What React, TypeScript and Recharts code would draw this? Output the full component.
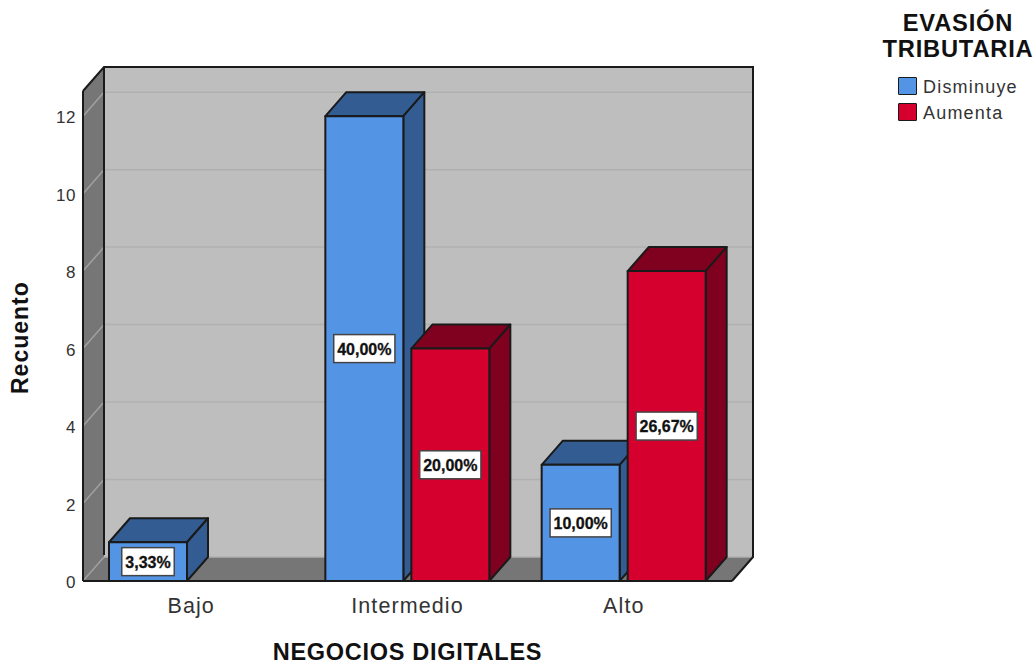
import { Bar, BarChart, CartesianGrid, LabelList, XAxis, YAxis, usePlotArea } from "recharts";

const categories = ["Bajo", "Intermedio", "Alto"];
const disminuye = [1, 12, 3];
const aumenta = [null, 6, 8];
const yTicks = [0, 2, 4, 6, 8, 10, 12];
const totalCasos = 30;
const seriesNames = ["Disminuye", "Aumenta"];
const seriesColors = ["#5394e4", "#d6002f"];
const sideColors = ["#335d92", "#80001f"];

const data = categories.map((name, i) => ({
  name,
  [seriesNames[0]]: disminuye[i],
  [seriesNames[1]]: aumenta[i],
}));

// oblique offset of the 3D box
const DX = 21;
const DY = 24;
const EDGE = "#1a1a1a";
const FONT = "'Liberation Sans', Arial, sans-serif";

// side wall, floor and back wall behind the bars
const Walls = () => {
  const plot = usePlotArea();
  if (!plot) return null;
  const { x, y, width, height } = plot;
  const right = x + width;
  const bottom = y + height;
  return (
    <g>
      <rect x={x + DX} y={y - DY} width={width} height={height} fill="#bebebe" />
      <polygon
        points={`${x},${y} ${x + DX},${y - DY} ${x + DX},${bottom - DY} ${x},${bottom}`}
        fill="#767676"
      />
      <polygon
        points={`${x},${bottom} ${x + DX},${bottom - DY} ${right + DX},${bottom - DY} ${right},${bottom}`}
        fill="#767676"
      />
    </g>
  );
};

// black outline goes above the grid lines
const WallEdges = (props: any) => {
  const { x, y, width, height } = props;
  const right = x + width;
  const bottom = y + height;
  return (
    <g key="wall-edges" fill="none" stroke={EDGE} strokeWidth={2}>
      <path d={`M${x},${y} L${x + DX},${y - DY} H${right + DX} V${bottom - DY} L${right},${bottom}`} />
      <path d={`M${x + DX},${y - DY} V${bottom - DY - 2}`} />
    </g>
  );
};

const gridLine = (props: any) => {
  const { x1, x2, y1, y, height, width, x } = props;
  // the generator also hands over the plot's top edge: that one is the wall outline
  if (y1 <= y + 0.5) return <WallEdges key="wall-edges" x={x} y={y} width={width} height={height} />;
  return (
    <g key={`grid-${y1}`}>
      <path d={`M${x1},${y1} L${x1 + DX},${y1 - DY}`} stroke="#a0a0a0" strokeWidth={1.5} fill="none" />
      <path d={`M${x1 + DX},${y1 - DY} H${x2 + DX}`} stroke="#b0b0b0" strokeWidth={1.5} fill="none" />
    </g>
  );
};

const Box = (props: any) => {
  const { x, y, width, height, index, seriesIndex } = props;
  if (!height || height <= 0) return null;
  const front = seriesColors[seriesIndex];
  const side = sideColors[seriesIndex];
  const r = x + width;
  const b = y + height;
  return (
    <g key={index} stroke={EDGE} strokeWidth={2} strokeLinejoin="round">
      <polygon points={`${x},${y} ${x + DX},${y - DY} ${r + DX},${y - DY} ${r},${y}`} fill={side} />
      <polygon points={`${r},${y} ${r + DX},${y - DY} ${r + DX},${b - DY} ${r},${b}`} fill={side} />
      <rect x={x} y={y} width={width} height={height} fill={front} />
    </g>
  );
};

const percentLabel = (props: any) => {
  const { x, y, width, height, value } = props;
  if (value == null) return null;
  const text = `${((value / totalCasos) * 100).toFixed(2).replace(".", ",")}%`;
  const w = text.length * 8.7 + 9;
  const cx = x + width / 2;
  const cy = y + height / 2;
  return (
    <g>
      <rect x={cx - w / 2} y={cy - 14} width={w} height={28} fill="#fff" stroke="#444" strokeWidth={1.5} />
      <text
        x={cx}
        y={cy + 6}
        textAnchor="middle"
        fontFamily={FONT}
        fontWeight={700}
        fontSize={16}
        fill="#111"
        stroke="#111"
        strokeWidth={0.3}
      >
        {text}
      </text>
    </g>
  );
};

const App = () => (
  <div style={{ position: "absolute", left: 0, top: 0, width: 1035, height: 665, background: "#fff" }}>
    <BarChart
      width={1035}
      height={665}
      data={data}
      barSize={78}
      barGap={8}
      margin={{ top: 91, right: 303, bottom: 0, left: 33 }}
    >
      <Walls />
      <CartesianGrid horizontal={gridLine} vertical={false} zIndex={1} />
      <XAxis
        dataKey="name"
        height={84}
        axisLine={{ stroke: EDGE, strokeWidth: 2 }}
        tickLine={false}
        tickMargin={11}
        tick={{ fontFamily: FONT, fontSize: 21.5, letterSpacing: 1.1, fill: "#333" }}
        label={{
          value: "NEGOCIOS DIGITALES",
          position: "insideBottom",
          offset: 5,
          fontFamily: FONT,
          fontWeight: 700,
          fontSize: 23.5,
          letterSpacing: 0.7,
          fill: "#111",
        }}
      />
      <YAxis
        width={50}
        domain={[0, 12.65]}
        ticks={yTicks}
        allowDataOverflow
        axisLine={{ stroke: EDGE, strokeWidth: 2 }}
        tickLine={false}
        tickMargin={1}
        tick={{ fontFamily: FONT, fontSize: 17, letterSpacing: 0.6, fill: "#333", dy: 1 }}
        label={{
          value: "Recuento",
          angle: -90,
          position: "insideLeft",
          offset: 0,
          dx: -13,
          dy: 58,
          fontFamily: FONT,
          fontWeight: 700,
          fontSize: 23,
          letterSpacing: 1,
          fill: "#111",
        }}
      />
      {seriesNames.map((name, i) => (
        <Bar
          key={name}
          dataKey={name}
          fill={seriesColors[i]}
          isAnimationActive={false}
          shape={(p: any) => <Box {...p} seriesIndex={i} />}
        >
          <LabelList dataKey={name} content={percentLabel} />
        </Bar>
      ))}
    </BarChart>
    <div
      style={{
        position: "absolute",
        left: 878,
        top: 10,
        width: 160,
        textAlign: "center",
        fontFamily: FONT,
        fontWeight: 700,
        fontSize: 23.7,
        lineHeight: "26px",
        letterSpacing: 0.8,
        color: "#111",
      }}
    >
      EVASIÓN
      <br />
      TRIBUTARIA
    </div>
    {seriesNames.map((name, i) => (
      <div
        key={name}
        style={{
          position: "absolute",
          left: 898,
          top: 76 + i * 26,
          height: 19,
          display: "flex",
          alignItems: "center",
          fontFamily: FONT,
          fontSize: 18,
          letterSpacing: 1.2,
          color: "#333",
        }}
      >
        <span
          style={{
            width: 17,
            height: 16,
            marginRight: 6,
            background: seriesColors[i],
            border: `1.5px solid ${EDGE}`,
            borderRadius: 1,
          }}
        />
        <span style={{ position: "relative", top: 2 }}>{name}</span>
      </div>
    ))}
  </div>
);

export default App;
